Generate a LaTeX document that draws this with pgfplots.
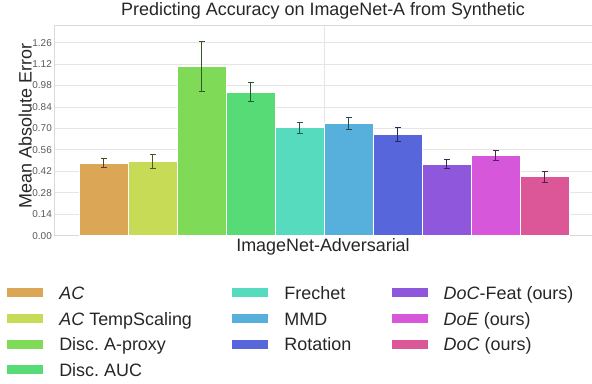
\documentclass[border=0pt]{standalone}
\usepackage{fontspec}
\setmainfont{Liberation Sans}
\usepackage{pgfplots}
\pgfplotsset{compat=1.18}
\definecolor{c1}{RGB}{219,167,87}
\definecolor{c2}{RGB}{199,219,87}
\definecolor{c3}{RGB}{127,219,87}
\definecolor{c4}{RGB}{87,219,119}
\definecolor{c5}{RGB}{87,219,191}
\definecolor{c6}{RGB}{87,175,219}
\definecolor{c7}{RGB}{87,103,219}
\definecolor{c8}{RGB}{143,87,219}
\definecolor{c9}{RGB}{215,87,219}
\definecolor{c10}{RGB}{219,87,151}
\definecolor{txt}{RGB}{38,38,38}
\pgfplotsset{
  mybar/.style={ybar, bar width=1, bar shift=0pt, draw=white, line width=1.2bp, fill=#1, forget plot,
    error bars/.cd, y dir=both, y explicit,
    error bar style={#1!40!black, line width=1bp},
    error mark options={rotate=90, mark size=3bp, #1!40!black, line width=1bp}},
}
\frenchspacing
\begin{document}
\frenchspacing
\begin{tikzpicture}
\path[use as bounding box] (-54bp,-148.3bp) rectangle (538bp,235.7bp);
\begin{axis}[
  scale only axis, width=538bp, height=210.7bp,
  xmin=-1.02, xmax=9.96, ymin=0, ymax=1.375,
  ytick={0,0.14,0.28,0.42,0.56,0.70,0.84,0.98,1.12,1.26},
  yticklabel style={/pgf/number format/.cd, fixed, fixed zerofill, precision=2, assume math mode=true, /tikz/.cd, font=\fontsize{10}{12}\selectfont, color=black!65, inner sep=0pt, xshift=-2bp},
  xtick={4.5}, xticklabels={},
  major tick length=0pt,
  grid=major, grid style={draw=black!10, line width=0.8bp},
  axis line style={draw=black!15, line width=0.8bp},
  title={Predicting Accuracy on ImageNet-A from Synthetic},
  title style={at={(axis description cs:0.5,1)}, anchor=base, yshift=3.3bp, font=\fontsize{18}{20}\selectfont, color=txt, inner sep=0pt},
  xlabel={ImageNet-Adversarial},
  xlabel style={at={(axis description cs:0.5,0)}, anchor=base, yshift=-15.5bp, font=\fontsize{18}{20}\selectfont, color=txt, inner sep=0pt},
  ylabel={Mean Absolute Error},
  ylabel style={at={(axis description cs:-0.04145,0.52)}, anchor=base, font=\fontsize{18}{20}\selectfont, color=txt, inner sep=0pt},
  legend image code/.code={\path[draw=none,#1] (0bp,2bp) rectangle (36bp,11bp);},
  legend columns=3,
  legend style={draw=none, fill=none, inner sep=0pt, outer sep=0pt,
    at={(axis description cs:0,0)}, anchor=north west, xshift=-46.7bp, yshift=-50.6bp,
    font=\fontsize{18}{20}\selectfont, text=txt,
    column sep=16bp, row sep=8.7bp,
    cells={anchor=base west},
    nodes={inner sep=0pt, text height=13bp, text depth=4bp},
    /tikz/every even column/.append style={column sep=40.5bp}},
]
\addplot[mybar=c1] coordinates {(0,0.473) +- (0,0.028)};
\addplot[mybar=c2] coordinates {(1,0.485) +- (0,0.046)};
\addplot[mybar=c3] coordinates {(2,1.106) +- (0,0.162)};
\addplot[mybar=c4] coordinates {(3,0.938) +- (0,0.063)};
\addplot[mybar=c5] coordinates {(4,0.705) +- (0,0.035)};
\addplot[mybar=c6] coordinates {(5,0.734) +- (0,0.040)};
\addplot[mybar=c7] coordinates {(6,0.662) +- (0,0.044)};
\addplot[mybar=c8] coordinates {(7,0.468) +- (0,0.028)};
\addplot[mybar=c9] coordinates {(8,0.522) +- (0,0.033)};
\addplot[mybar=c10] coordinates {(9,0.385) +- (0,0.037)};
\addlegendimage{fill=c1,draw=none}\addlegendentry{\textit{AC}}
\addlegendimage{fill=c5,draw=none}\addlegendentry{Frechet}
\addlegendimage{fill=c8,draw=none}\addlegendentry{\textit{DoC}-Feat (ours)}
\addlegendimage{fill=c2,draw=none}\addlegendentry{\textit{AC} TempScaling}
\addlegendimage{fill=c6,draw=none}\addlegendentry{MMD}
\addlegendimage{fill=c9,draw=none}\addlegendentry{\textit{DoE} (ours)}
\addlegendimage{fill=c3,draw=none}\addlegendentry{Disc.\ A-proxy}
\addlegendimage{fill=c7,draw=none}\addlegendentry{Rotation}
\addlegendimage{fill=c10,draw=none}\addlegendentry{\textit{DoC} (ours)}
\addlegendimage{fill=c4,draw=none}\addlegendentry{Disc.\ AUC}
\end{axis}
\end{tikzpicture}
\end{document}
